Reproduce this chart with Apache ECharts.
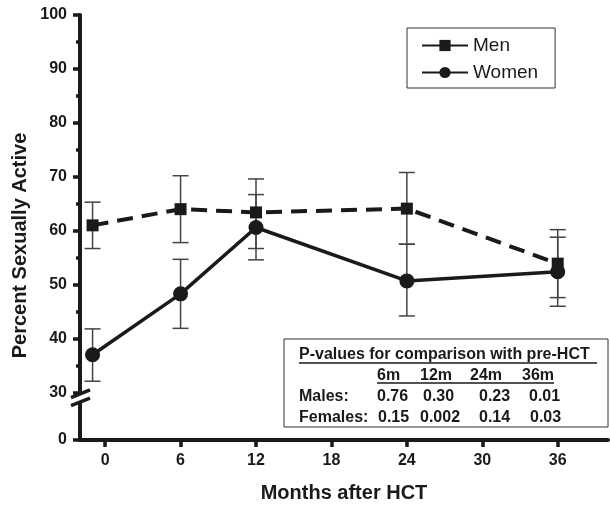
<!DOCTYPE html>
<html><head><meta charset="utf-8">
<script src="https://cdn.jsdelivr.net/npm/echarts@6/dist/echarts.min.js"></script>
<style>html,body{margin:0;padding:0;background:#fff}#c{width:610px;height:508px}</style>
</head><body><div id="c"></div>
<script>
// ---- data ----
const months = [-1, 6, 12, 24, 36];
const menValues = [61.0, 64.0, 63.4, 64.1, 53.9];
const menLow = [56.7, 57.8, 56.7, 57.5, 47.6];
const menHigh = [65.3, 70.2, 69.6, 70.8, 60.2];
const womenValues = [37.0, 48.3, 60.6, 50.7, 52.4];
const womenLow = [32.1, 41.9, 54.6, 44.2, 46.0];
const womenHigh = [41.8, 54.7, 66.7, 57.5, 58.8];
const xTicks = [0, 6, 12, 18, 24, 30, 36];
const yTicks = [21.2, 30, 40, 50, 60, 70, 80, 90, 100];
const yTickLabels = ['0', '30', '40', '50', '60', '70', '80', '90', '100'];
const yMinorTicks = [35, 45, 55, 65, 75, 85, 95];
const pTitle = 'P-values for comparison with pre-HCT';
const pHeader = ['6m', '12m', '24m', '36m'];
const pMales = ['0.76', '0.30', '0.23', '0.01'];
const pFemales = ['0.15', '0.002', '0.14', '0.03'];

const FF = '"Liberation Sans", Arial, Helvetica, sans-serif';
const INK = '#1a1a1a';
const chart = echarts.init(document.getElementById('c'), null, {renderer: 'canvas'});

function errItem(params, api) {
  const x = api.value(0), lo = api.value(1), hi = api.value(2);
  const pl = api.coord([x, lo]), ph = api.coord([x, hi]);
  const w = 8;
  const style = {stroke: '#444', lineWidth: 1.5};
  return {type: 'group', children: [
    {type: 'line', shape: {x1: pl[0], y1: pl[1], x2: ph[0], y2: ph[1]}, style: style},
    {type: 'line', shape: {x1: pl[0] - w, y1: pl[1], x2: pl[0] + w, y2: pl[1]}, style: style},
    {type: 'line', shape: {x1: ph[0] - w, y1: ph[1], x2: ph[0] + w, y2: ph[1]}, style: style}
  ]};
}

const axisText = {fontFamily: FF, fontWeight: 'bold', fontSize: 16, color: INK};

const option = {
  animation: false,
  backgroundColor: '#fff',
  grid: {left: 80, right: 2, top: 15, bottom: 65.5},
  xAxis: {
    type: 'value', min: -2, max: 40,
    splitLine: {show: false},
    axisLine: {onZero: false, lineStyle: {color: INK, width: 4}},
    axisTick: {customValues: xTicks, length: 7, lineStyle: {color: INK, width: 3.5}},
    axisLabel: Object.assign({customValues: xTicks, margin: 13}, axisText),
    name: 'Months after HCT', nameLocation: 'middle', nameGap: 43,
    nameTextStyle: {fontFamily: FF, fontWeight: 'bold', fontSize: 20, color: INK}
  },
  yAxis: [{
    type: 'value', min: 21.2, max: 100,
    splitLine: {show: false},
    axisLine: {onZero: false, lineStyle: {color: INK, width: 4}},
    axisTick: {customValues: yTicks, length: 7, lineStyle: {color: INK, width: 3.5}},
    axisLabel: Object.assign({
      customValues: yTicks, margin: 13,
      formatter: function (v) { const i = yTicks.indexOf(v); return i >= 0 ? yTickLabels[i] : ''; }
    }, axisText)
  }, {
    type: 'value', min: 21.2, max: 100, position: 'left', offset: 0,
    splitLine: {show: false},
    axisLine: {show: false, onZero: false},
    axisTick: {customValues: yMinorTicks, length: 4, lineStyle: {color: INK, width: 3.5}},
    axisLabel: {show: false}
  }],
  legend: {
    orient: 'vertical', left: 407, top: 28,
    padding: [8, 17, 6, 14], itemGap: 8, itemWidth: 46, itemHeight: 14,
    borderColor: '#333', borderWidth: 1, backgroundColor: '#fff',
    textStyle: {fontFamily: FF, fontSize: 19, color: INK},
    data: [{name: 'Men', lineStyle: {type: 'solid'}}, {name: 'Women'}]
  },
  series: [
    {type: 'custom', name: 'menErr', renderItem: errItem, z: 1,
     encode: {x: 0, y: [1, 2]},
     data: months.map((m, i) => [m, menLow[i], menHigh[i]])},
    {type: 'custom', name: 'womenErr', renderItem: errItem, z: 1,
     encode: {x: 0, y: [1, 2]},
     data: months.map((m, i) => [m, womenLow[i], womenHigh[i]])},
    {type: 'line', name: 'Men', z: 3, symbol: 'rect', symbolSize: 12,
     itemStyle: {color: INK},
     lineStyle: {color: INK, width: 4, type: [16, 9]},
     data: months.map((m, i) => [m, menValues[i]])},
    {type: 'line', name: 'Women', z: 3, symbol: 'circle', symbolSize: 15,
     itemStyle: {color: INK},
     lineStyle: {color: INK, width: 3.5},
     data: months.map((m, i) => [m, womenValues[i]])}
  ]
};
chart.setOption(option);

// ---- annotations: axis break, y title, p-value table ----
const ax = chart.convertToPixel({gridIndex: 0}, [-2, 29.0]);
const bx = ax[0], by = ax[1];
const graphics = [];
graphics.push({type: 'polygon', z: 50, shape: {points: [[bx - 9, by - 0.5], [bx + 9, by - 8], [bx + 9, by + 0.5], [bx - 9, by + 8]]}, style: {fill: '#fff'}});
graphics.push({type: 'line', z: 51, shape: {x1: bx - 9, y1: by - 0.3, x2: bx + 10, y2: by - 8}, style: {stroke: INK, lineWidth: 3.5}});
graphics.push({type: 'line', z: 51, shape: {x1: bx - 9, y1: by + 7.7, x2: bx + 10, y2: by + 0.3}, style: {stroke: INK, lineWidth: 3.5}});

graphics.push({type: 'text', z: 50, x: 20, y: 245.5, rotation: Math.PI / 2,
  style: {text: 'Percent Sexually Active', font: 'bold 20px ' + FF, fill: INK, align: 'center', verticalAlign: 'middle'}});

graphics.push({type: 'rect', z: 40, shape: {x: 284, y: 339, width: 324, height: 88}, style: {fill: '#fff', stroke: '#333', lineWidth: 1}});
const pFont = 'bold 16px ' + FF;
function t(x, y, s) { return {type: 'text', z: 45, x: x, y: y, style: {text: s, font: pFont, fill: INK, align: 'left', verticalAlign: 'middle'}}; }
graphics.push(t(299, 355, pTitle));
graphics.push({type: 'line', z: 45, shape: {x1: 299, y1: 363, x2: 597, y2: 363}, style: {stroke: INK, lineWidth: 1.5}});
const headX = [377, 420, 470, 522];
const maleX = [377, 423, 479, 529];
const femX = [378, 420, 479, 530];
pHeader.forEach((s, i) => graphics.push(t(headX[i], 375.5, s)));
graphics.push({type: 'line', z: 45, shape: {x1: 377, y1: 383, x2: 554, y2: 383}, style: {stroke: INK, lineWidth: 1.5}});
graphics.push(t(299, 396.5, 'Males:'));
pMales.forEach((s, i) => graphics.push(t(maleX[i], 396.5, s)));
graphics.push(t(299, 417.5, 'Females:'));
pFemales.forEach((s, i) => graphics.push(t(femX[i], 417.5, s)));

chart.setOption({graphic: graphics});
</script></body></html>
